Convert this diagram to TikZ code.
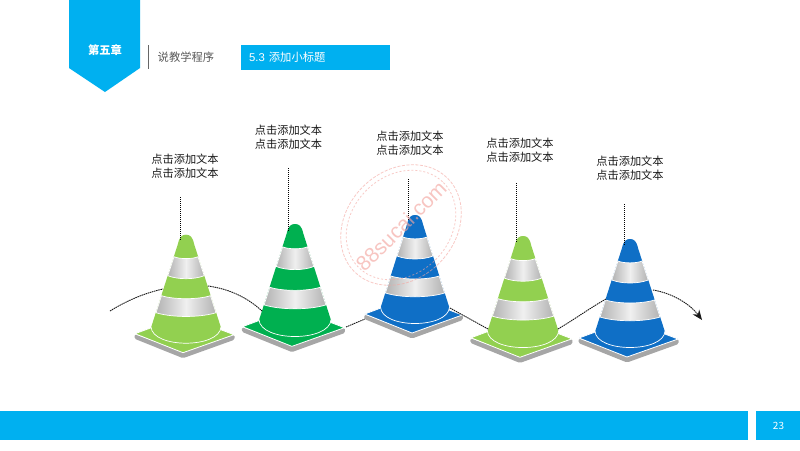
\documentclass[tikz,border=0pt]{standalone}
\usepackage{fontspec}
\setmainfont{Noto Sans CJK SC}
\newfontfamily\latinfont{Liberation Sans}
\usetikzlibrary{arrows.meta}
\definecolor{brandcyan}{HTML}{00B0F0}
\definecolor{conelime}{HTML}{92D050}
\definecolor{conegreen}{HTML}{00B050}
\definecolor{coneblue}{HTML}{0F6FC6}
\definecolor{stampink}{HTML}{F4A6A0}
\newcommand{\trafficcone}[5]{%
  \begin{scope}[shift={(#1,#2)},xscale=#3,yscale=#4]
    % plinth
    \fill[basefront,rounded corners=1.5pt] (-51.5,99.5) -- (-51.5,104) -- (-3,123.5) -- (48.5,105) -- (48.5,100) -- (-3,117) -- cycle;
    \draw[white,line width=.8pt,fill=#5,line join=round] (-51,99) -- (-2,81) -- (48,100) -- (-3,118) -- cycle;
    % body
    \fill[#5] (-35,93) -- (-8,9)
      .. controls (-6.5,2) and (-4,0) .. (0,0) .. controls (4,0) and (6.5,2) .. (8,9)
      -- (35,93)
      .. controls (34,108) and (-34,108) .. cycle;
    \draw[white,line width=.7pt] (-35,92) .. controls (-34,114) and (34,114) .. (35,92);
    % stripes
    \draw[stripe] (-12,22) -- (-18.2,41) .. controls (-8,45) and (8,45) .. (18.2,41)
      -- (12,22) .. controls (7,24.5) and (-7,24.5) .. cycle;
    \draw[stripe] (-24.5,61) -- (-30,78) .. controls (-14,83) and (14,83) .. (30,78)
      -- (24.5,61) .. controls (12,65) and (-12,65) .. cycle;
  \end{scope}}
\tikzset{
  basefront/.style={fill=black!35},
  stripe/.style={draw=white,line width=.7pt,left color=black!30,right color=black!30,middle color=black!6},
  caption/.style={align=center,font=\fontsize{11.2}{13.6}\selectfont,text=black!90,inner sep=0pt},
  leader/.style={black,line width=.9pt,dash pattern=on 1pt off 1pt},
  flowline/.style={black!90,line width=.9pt,dash pattern=on 1.5pt off .7pt},
  bluefill/.style={fill=brandcyan,draw=none},
  stampring/.style={draw=stampink,line width=.8pt,opacity=.6}
}
\begin{document}
\begin{tikzpicture}[x=1pt,y=-1pt]
\useasboundingbox (0,0) rectangle (800,450);
\fill[white] (0,0) rectangle (800,450);
% header
\fill[bluefill] (69,0) -- (140,0) -- (140,68) -- (105,92) -- (69,68) -- cycle;
\node[text=white,font=\fontsize{11.3}{13}\selectfont\bfseries,inner sep=0pt] (chapter) at (105,50) {第五章};
\draw[black!60,line width=1pt] (148.5,45) -- (148.5,69);
\node[anchor=west,text=black!65,font=\fontsize{11.3}{13}\selectfont,inner sep=0pt] (section) at (157.5,57) {说教学程序};
\fill[bluefill] (241,45) rectangle (390,69.5);
\node[anchor=west,text=white,font=\fontsize{11.3}{13}\selectfont,inner sep=0pt] (subtitle) at (249,57.5) {{\latinfont 5.3}\hspace{4pt}添加小标题};
% footer
\fill[bluefill] (0,411) rectangle (748,439.5);
\fill[bluefill] (756,411) rectangle (800,439.5);
\node[text=white,font=\fontsize{10}{12}\selectfont,inner sep=0pt] (page) at (778.5,426) {23};
% captions
\node[caption] (t1) at (185,166.5) {点击添加文本\\点击添加文本};
\node[caption] (t2) at (288.5,137) {点击添加文本\\点击添加文本};
\node[caption] (t3) at (410,143) {点击添加文本\\点击添加文本};
\node[caption] (t4) at (520,150) {点击添加文本\\点击添加文本};
\node[caption] (t5) at (630,168) {点击添加文本\\点击添加文本};
% connector endpoints
\coordinate (s0) at (110,311); \coordinate (e0) at (163,289);
\coordinate (s1) at (208,286); \coordinate (e1) at (262,311);
\coordinate (s2) at (346,327); \coordinate (e2) at (365,319);
\coordinate (s3) at (450,308); \coordinate (e3) at (488,329);
\coordinate (s4) at (558,329); \coordinate (e4) at (606,299);
\coordinate (s5) at (653,290); \coordinate (e5) at (702,320);
\coordinate (v1a) at (180,197); \coordinate (v1b) at (180,241);
\coordinate (v2a) at (288.5,168); \coordinate (v2b) at (288.5,231);
\coordinate (v3a) at (408.5,179); \coordinate (v3b) at (408.5,220);
\coordinate (v4a) at (516,183); \coordinate (v4b) at (516,243);
\coordinate (v5a) at (624.5,204); \coordinate (v5b) at (624.5,245);
% cones
\trafficcone{186}{234.7}{1}{1}{conelime}
\trafficcone{295}{224}{1.03}{1.037}{conegreen}
\trafficcone{415}{215}{.985}{1}{coneblue}
\trafficcone{523}{236}{1.02}{1.028}{conelime}
\trafficcone{630}{239}{1}{1}{coneblue}
% connectors
\draw[flowline] (s0) .. controls (128,300) and (145,293) .. (e0);
\draw[flowline] (s1) .. controls (230,289) and (248,298) .. (e1);
\draw[flowline] (s2) -- (e2);
\draw[flowline] (s3) -- (e3);
\draw[flowline] (s4) .. controls (575,319) and (590,308) .. (e4);
\draw[flowline,-{Stealth[length=10pt,width=8pt]}] (s5) .. controls (672,293) and (690,304) .. (e5);
\draw[leader] (v1a) -- (v1b);
\draw[leader] (v2a) -- (v2b);
\draw[leader] (v3a) -- (v3b);
\draw[leader] (v4a) -- (v4b);
\draw[leader] (v5a) -- (v5b);
% watermark
\draw[stampring,dash pattern=on 3pt off 1.5pt] (401,225) ellipse[x radius=66,y radius=54,rotate=45];
\draw[stampring,dash pattern=on 2pt off 2pt] (401,225) ellipse[x radius=60,y radius=49,rotate=45];
\node[text=stampink,opacity=.65,rotate=45,inner sep=0pt,font=\latinfont\fontsize{21}{24}\selectfont] (mark) at (401,226) {88sucai.com};
\end{tikzpicture}
\end{document}
